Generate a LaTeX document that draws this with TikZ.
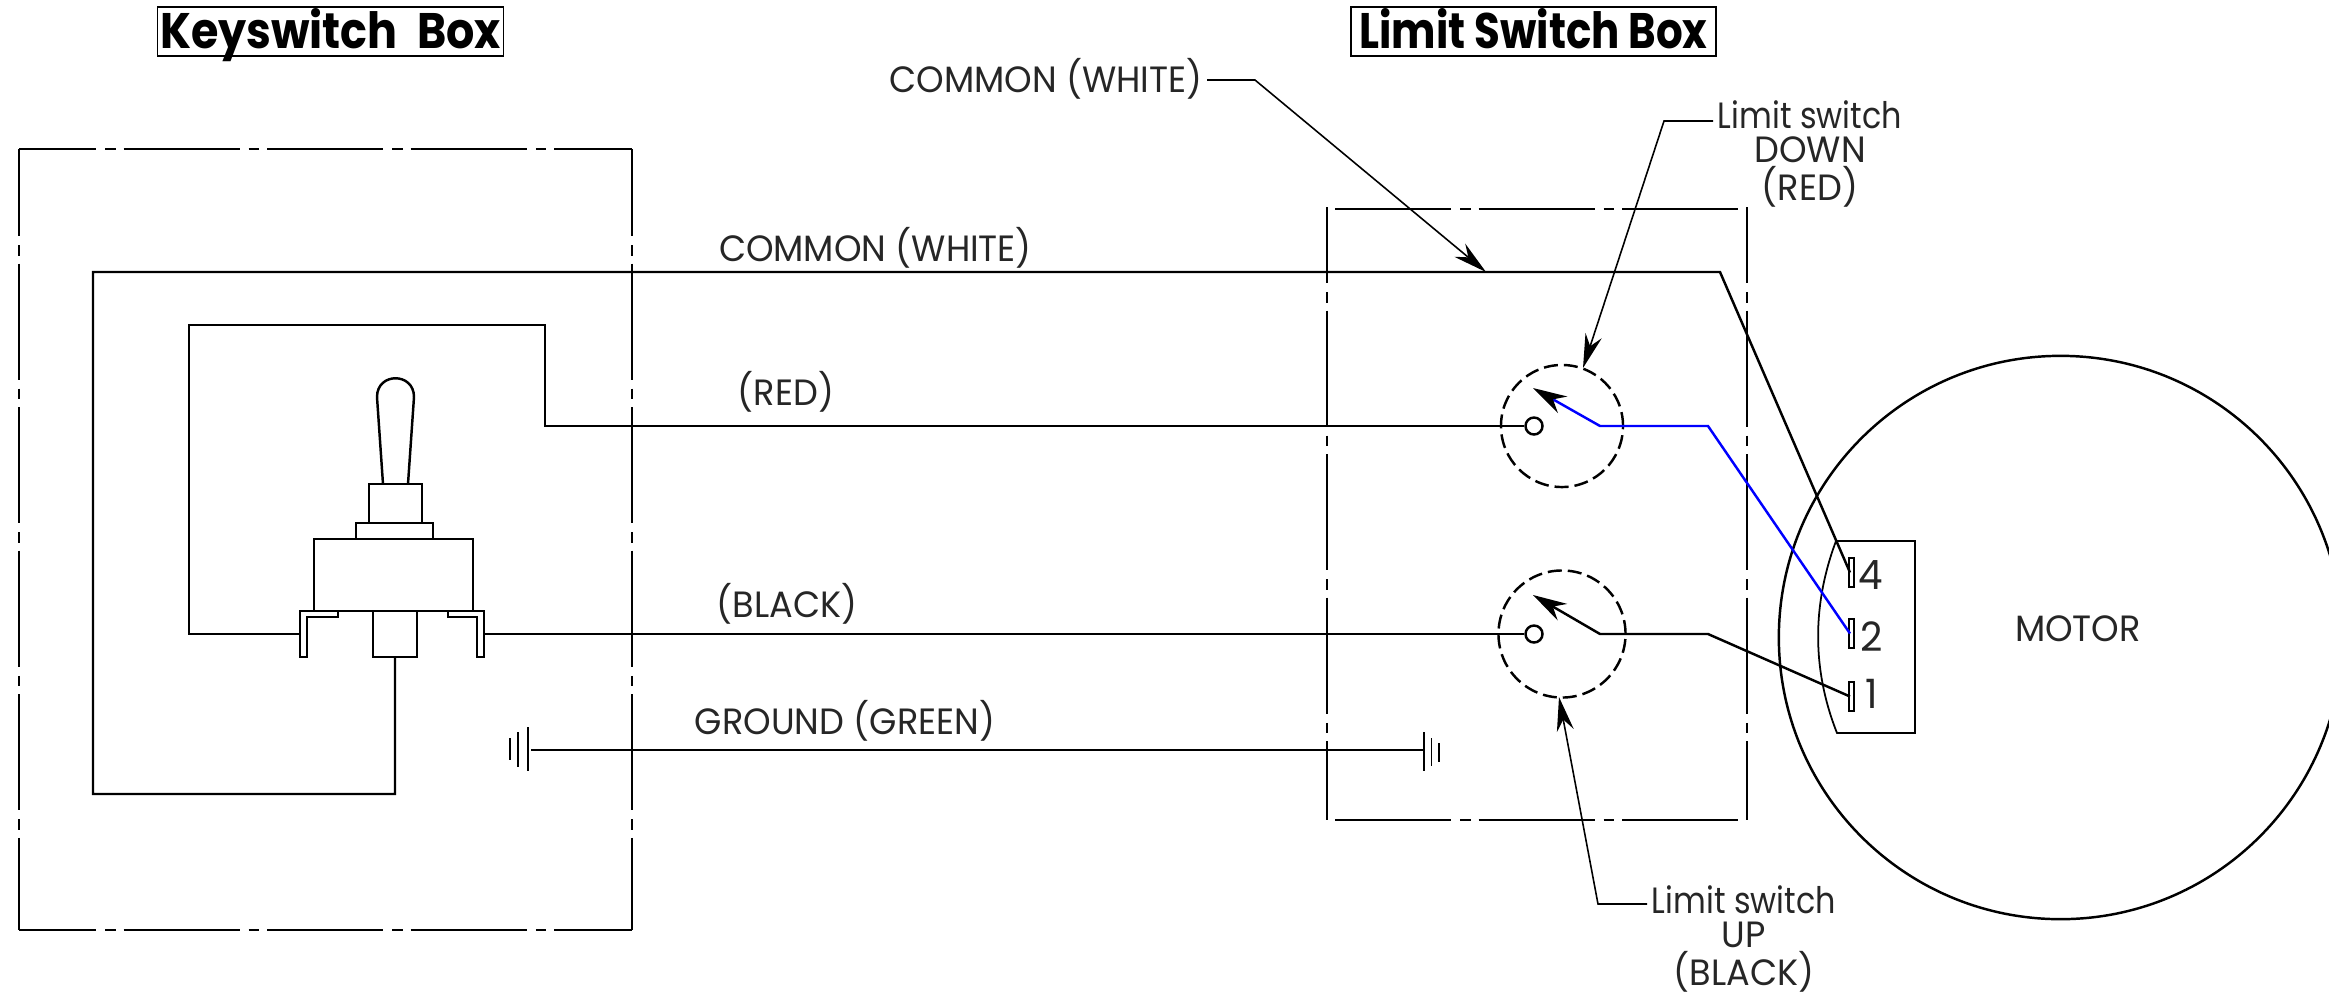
\documentclass[tikz,border=0pt]{standalone}
\usepackage{fontspec}
\setmainfont{Poppins}[FakeStretch=0.96]
\newfontfamily\limitfont{Poppins}[FakeStretch=0.87]
\newfontfamily\keyfont{Poppins}[FakeStretch=0.89]
\newfontfamily\boxfont{Poppins}[FakeStretch=0.84]
\usetikzlibrary{arrows.meta,shapes,calc}
\tikzset{
    wire/.style={line width=0.7pt},
    thin wire/.style={line width=0.5pt},
    box line/.style={line width=0.45pt, dash pattern=on 1.16cm off 0.09cm on 0.105cm off 0.08cm, dash phase=#1},
    leader/.style={line width=0.45pt, -{Stealth[length=0.34cm,width=0.17cm]}},
    lever/.style={wire, -{Stealth[black,length=0.34cm,width=0.19cm]}},
    contact/.style={circle, draw, wire, minimum size=0.17cm, inner sep=0pt},
    lbl/.style={font=\fontsize{10.4}{9.6}\selectfont\color{black!85}, inner sep=0pt, align=center},
    num/.style={font=\fontsize{11.5}{12}\selectfont\color{black!85}, inner sep=0pt},
    heading/.style={draw, line width=0.45pt, inner sep=0pt, minimum height=0.49cm, text height=0.41cm, text depth=0.08cm},
}

\begin{document}
\begin{tikzpicture}[x=0.01cm,y=-0.01cm]
    \useasboundingbox (0,0) rectangle (2329,993);

    % titles
    \node[heading, minimum width=3.46cm, font=\keyfont\bfseries\fontsize{14.2}{16}\selectfont] (keybox) at (330.5,31.5) {Keyswitch\hspace{0.1cm} Box};
    \node[heading, minimum width=3.65cm, font=\boxfont\bfseries\fontsize{14.2}{16}\selectfont] (limitbox) at (1533.5,31.5) {Limit Switch Box};

    % dash-dot boxes
    \draw[box line=0.39cm] (19,149) -- (632,149);
    \draw[box line=0.39cm] (19,930) -- (632,930);
    \draw[box line=0.29cm] (19,149) -- (19,930);
    \draw[box line=0.29cm] (632,149) -- (632,930);
    \draw[box line=0cm] (1335,209) -- (1739,209);
    \draw[box line=0cm] (1335,820) -- (1739,820);
    \draw[box line=0.40cm] (1327,207) -- (1327,820);
    \draw[box line=0.40cm] (1747,207) -- (1747,820);

    % motor
    \node[circle, draw, wire, minimum size=5.63cm, inner sep=0pt] (motor) at (2060.5,637.5) {};
    \node[lbl] (motorlbl) at (2078,629) {MOTOR};
    \coordinate (tbtop) at (1836,541);
    \coordinate (tbbot) at (1837,733);
    \draw[thin wire] (tbtop) -- (1915,541) -- (1915,733) -- (tbbot) .. controls (1812,670) and (1812,605) .. (tbtop);

    % motor terminals
    \foreach \name/\ypos/\txt/\xlbl/\ylbl in {four/572.5/4/1871/575, two/633.5/2/1872/637, one/696.5/1/1872/694} {
        \draw[thin wire] (1849,{\ypos-14.5}) rectangle (1854,{\ypos+14.5});
        \coordinate (\name) at (1850,\ypos);
        \node[num] (t\name) at (\xlbl,\ylbl) {\txt};
    }

    % toggle switch
    \draw[wire] (383,484) -- (377,397) .. controls (377,372) and (414,372) .. (414,397) -- (408,484);
    \draw[wire] (369,484) rectangle (422,523);
    \draw[wire] (356,523) rectangle (433,539);
    \draw[wire] (314,539) rectangle (473,611);
    \draw[wire] (373,611) rectangle (417,657);
    \draw[wire] (338,611) -- (300,611) -- (300,657) -- (307,657) -- (307,617) -- (338,617) -- cycle;
    \draw[wire] (448,611) -- (484,611) -- (484,657) -- (477,657) -- (477,617) -- (448,617) -- cycle;
    \coordinate (lugl) at (300,634);
    \coordinate (lugr) at (484,634);
    \coordinate (lugc) at (395,657);

    % common
    \coordinate (commona) at (395,794);
    \coordinate (commonb) at (93,794);
    \coordinate (commonc) at (93,272);
    \coordinate (commond) at (1720,272);
    \draw[wire] (lugc) -- (commona) -- (commonb) -- (commonc) -- (commond) -- (four);

    % red
    \node[contact] (contacta) at (1534,426) {};
    \node[circle, draw, wire, dash pattern=on 0.14cm off 0.06cm, minimum size=1.22cm, inner sep=0pt] (switcha) at (1562,426) {};
    \coordinate (tipa) at (1533,388);
    \draw[wire] (lugl) -- (189,634) -- (189,325) -- (545,325) -- (545,426) -- (contacta.west);
    \draw[lever, blue] (two) -- (1708,426) -- (1600,426) -- (tipa);

    % black
    \node[contact] (contactb) at (1534,634) {};
    \node[circle, draw, wire, dash pattern=on 0.14cm off 0.06cm, minimum size=1.27cm, inner sep=0pt] (switchb) at (1562,634) {};
    \coordinate (tipb) at (1533,595);
    \draw[wire] (lugr) -- (contactb.west);
    \draw[lever] (one) -- (1708,634) -- (1600,634) -- (tipb);

    % ground
    \draw[wire] (531,750) -- (1424,750);
    \draw[thin wire] (528,727) -- (528,771) (518,732) -- (518,767) (510,738) -- (510,760);
    \draw[thin wire] (1424,732) -- (1424,771) (1431.5,738) -- (1431.5,766) (1439,743) -- (1439,762);

    % wire labels
    \node[lbl] (lblcommon) at (875.5,248) {COMMON (WHITE)};
    \node[lbl] (lblred) at (786,392) {(RED)};
    \node[lbl] (lblblack) at (787,604) {(BLACK)};
    \node[lbl] (lblground) at (845,721) {GROUND (GREEN)};

    % callouts
    \node[lbl, anchor=east] (lblcommontop) at (1203,79) {COMMON (WHITE)};
    \draw[leader] (lblcommontop.east) ++(4,1) -- (1255,80) -- (1486,272);
    \node[lbl] (lbldown) at (1810,154) {{\limitfont Limit switch}\\DOWN\\(RED)};
    \coordinate (downend) at (1713,121);
    \draw[leader] (downend) -- (1664,121) -- (1583,368);
    \node[lbl] (lblup) at (1744,939) {{\limitfont Limit switch}\\UP\\(BLACK)};
    \coordinate (upend) at (1647,904);
    \draw[leader] (upend) -- (1598,904) -- (1559,697);
\end{tikzpicture}
\end{document}
